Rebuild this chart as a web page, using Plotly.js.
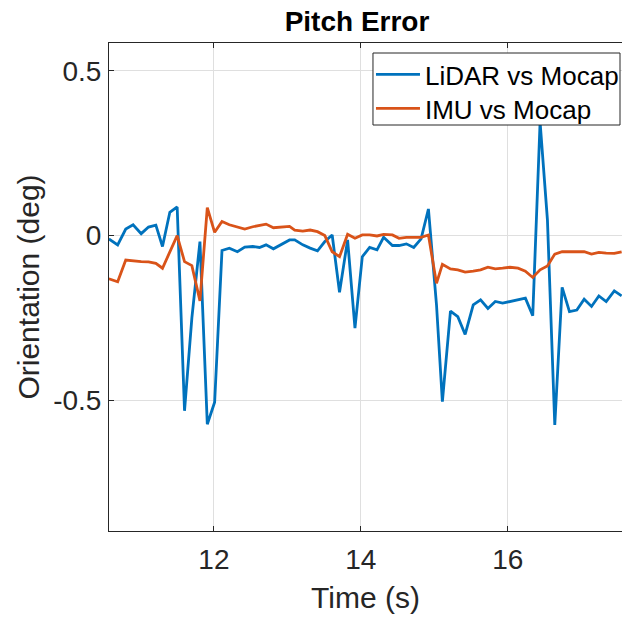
<!DOCTYPE html>
<html>
<head>
<meta charset="utf-8">
<script src="https://cdn.plot.ly/plotly-3.0.1.min.js"></script>
<style>html,body{margin:0;padding:0;background:#fff;}#chart{width:624px;height:619px;}</style>
</head>
<body>
<div id="chart"></div>
<script>
// Time samples (s)
const timeS = [10.57,10.69,10.80,10.90,11.01,11.11,11.21,11.30,11.40,11.50,
  11.60,11.70,11.81,11.91,12.01,12.11,12.21,12.32,12.42,12.53,
  12.62,12.71,12.81,12.92,13.03,13.10,13.21,13.31,13.41,13.51,
  13.61,13.71,13.82,13.92,14.02,14.12,14.22,14.31,14.43,14.52,
  14.62,14.72,14.82,14.92,15.03,15.11,15.22,15.32,15.42,15.53,
  15.63,15.73,15.83,15.93,16.03,16.14,16.24,16.34,16.44,16.54,
  16.64,16.74,16.84,16.94,17.04,17.14,17.24,17.34,17.45,17.55];

// LiDAR vs Mocap pitch error (deg)
const lidarErr = [-0.010,-0.028,0.020,0.033,0.006,0.026,0.032,-0.033,0.071,0.087,
  -0.532,-0.250,-0.018,-0.573,-0.506,-0.045,-0.038,-0.049,-0.035,-0.033,
  -0.036,-0.028,-0.040,-0.026,-0.013,-0.013,-0.028,-0.038,-0.046,-0.018,
  0.002,-0.172,-0.013,-0.281,-0.064,-0.036,-0.043,-0.005,-0.030,-0.030,
  -0.025,-0.036,-0.010,0.081,-0.210,-0.504,-0.229,-0.246,-0.300,-0.210,
  -0.195,-0.221,-0.200,-0.205,-0.200,-0.195,-0.190,-0.243,0.345,0.048,
  -0.575,-0.157,-0.231,-0.226,-0.193,-0.215,-0.183,-0.200,-0.168,-0.183];

// IMU vs Mocap pitch error (deg)
const imuErr = [-0.131,-0.140,-0.074,-0.077,-0.079,-0.080,-0.084,-0.099,-0.049,0.000,
  -0.079,-0.091,-0.198,0.085,0.010,0.043,0.033,0.027,0.020,0.027,
  0.030,0.035,0.024,0.025,0.028,0.017,0.014,0.017,0.012,0.000,
  -0.049,-0.064,0.004,-0.008,0.002,0.002,-0.001,0.004,0.002,-0.008,
  -0.005,-0.005,-0.005,0.002,-0.145,-0.087,-0.101,-0.104,-0.111,-0.108,
  -0.104,-0.096,-0.101,-0.099,-0.096,-0.099,-0.108,-0.127,-0.104,-0.092,
  -0.056,-0.049,-0.049,-0.049,-0.049,-0.056,-0.051,-0.053,-0.054,-0.049];

const seriesNames = ['LiDAR vs Mocap', 'IMU vs Mocap'];
const xTickVals = [12, 14, 16];
const xTickText = ['12', '14', '16'];
const yTickVals = [-0.5, 0, 0.5];
const yTickText = ['-0.5', '0', '0.5'];

const FONT = 'Liberation Sans, Arial, Helvetica, sans-serif';
const AX = '#262626';

const traces = [
  {x: timeS, y: lidarErr, name: seriesNames[0], type: 'scatter', mode: 'lines',
   line: {color: '#0072BD', width: 2.8}, legend: 'legend'},
  {x: timeS, y: imuErr, name: seriesNames[1], type: 'scatter', mode: 'lines',
   line: {color: '#D95319', width: 2.8}, legend: 'legend2'}
];

const legendStyle = (topPx) => ({
  x: (372 - 109) / 515, xanchor: 'left', y: (531 - topPx) / 488, yanchor: 'top',
  bgcolor: 'rgba(0,0,0,0)', borderwidth: 0,
  font: {family: FONT, size: 26, color: '#000'},
  tracegroupgap: 0, itemwidth: 44
});

const layout = {
  width: 624, height: 619,
  margin: {l: 109, r: 0, t: 43, b: 88},
  paper_bgcolor: '#ffffff', plot_bgcolor: '#ffffff',
  font: {family: FONT, color: AX},
  title: {text: 'Pitch Error', font: {family: FONT, size: 28, color: '#000', weight: 'bold'},
          x: 357/624, xref: 'container', xanchor: 'center', y: 1 - 21/619, yref: 'container', yanchor: 'middle'},
  xaxis: {
    range: [10.572, 17.555], tickvals: xTickVals, ticktext: xTickText,
    ticks: 'inside', ticklen: 5, tickcolor: AX, tickwidth: 1,
    showline: true, linecolor: AX, linewidth: 1, mirror: 'ticks',
    showgrid: true, gridcolor: '#dfdfdf', gridwidth: 1, zeroline: false,
    tickfont: {family: FONT, size: 28, color: AX},
    ticklabelstandoff: 3,
    title: {text: 'Time (s)', font: {family: FONT, size: 30, color: AX}, standoff: 13}
  },
  yaxis: {
    range: [-0.897, 0.585], tickvals: yTickVals, ticktext: yTickText,
    ticks: 'inside', ticklen: 5, tickcolor: AX, tickwidth: 1,
    showline: true, linecolor: AX, linewidth: 1, mirror: false,
    showgrid: true, gridcolor: '#dfdfdf', gridwidth: 1, zeroline: false,
    tickfont: {family: FONT, size: 28, color: AX},
    ticklabelstandoff: 1,
    title: {text: 'Orientation (deg)', font: {family: FONT, size: 30, color: AX}, standoff: 4}
  },
  shapes: [{
    type: 'rect', xref: 'paper', yref: 'paper', layer: 'above',
    x0: (374 - 109) / 515, x1: (622 - 109) / 515,
    y0: (531 - 125) / 488, y1: (531 - 53) / 488,
    line: {color: AX, width: 1}, fillcolor: '#ffffff'
  }],
  legend: legendStyle(51),
  legend2: legendStyle(85),
  showlegend: true
};

Plotly.newPlot('chart', traces, layout, {displayModeBar: false, staticPlot: true});
</script>
</body>
</html>
